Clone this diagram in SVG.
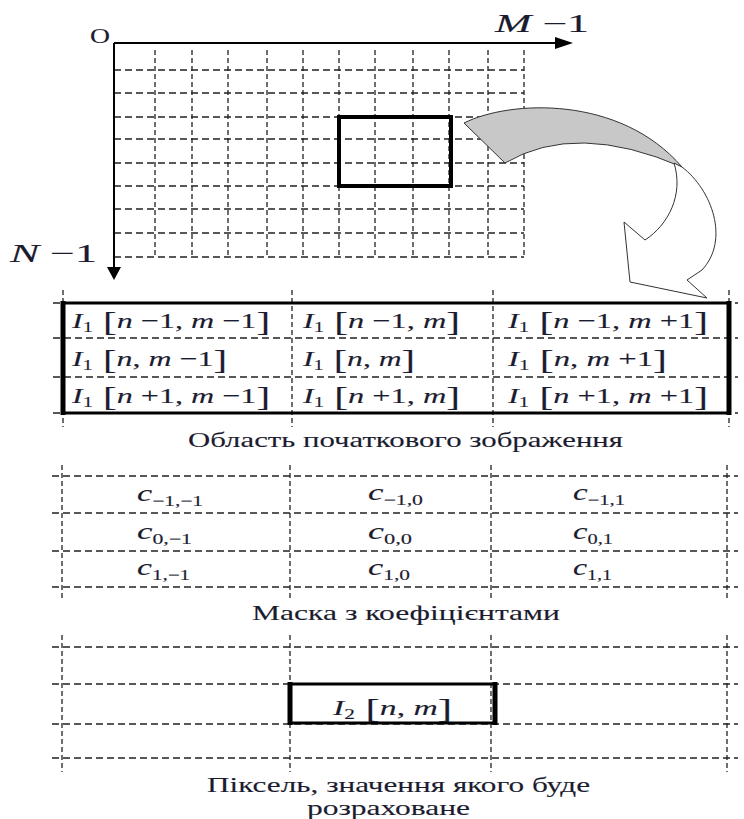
<svg xmlns="http://www.w3.org/2000/svg" width="744" height="819" viewBox="0 0 744 819">
<style>
text{font-family:"Liberation Serif","Times New Roman",serif;fill:#1c1c30;stroke:#1c1c30;stroke-width:0.12}
.i{font-style:italic}
.s{font-size:14px}
.b{font-size:28px}
.tb{font-size:22px}
.mk{font-size:24px}
.ms{font-size:15px;font-style:normal}
.cap{font-size:21px}
.dh{stroke:#222;stroke-width:1.3;stroke-dasharray:7 4;fill:none}
.dv{stroke:#222;stroke-width:1.3;stroke-dasharray:5 3;fill:none}
.thick{stroke:#000;fill:none}
</style>

<g id="image-grid">
<g class="dh">
<path d="M114,70H524M114,93H524M114,117H524M114,139H524M114,163H524M114,186H524M114,209H524M114,233H524M114,257H524"/>
</g>
<g class="dv">
<path d="M155,50V258M192,50V258M228,50V258M267,50V258M303,50V258M339,50V258M375,50V258M413,50V258M449,50V258M488,50V258M524,50V258"/>
</g>
<path d="M114,43H556" stroke="#000" stroke-width="2"/>
<path d="M555,37L573,43L555,49Z" fill="#000"/>
<path d="M114,43V268" stroke="#000" stroke-width="2"/>
<path d="M107,267L114,280L121,267Z" fill="#000"/>
<text x="90" y="43" font-size="21" textLength="20" lengthAdjust="spacingAndGlyphs">O</text>
<text x="495" y="32" font-size="25" textLength="94" lengthAdjust="spacingAndGlyphs"><tspan class="i">M</tspan> −1</text>
<text x="10" y="262" font-size="26" textLength="87" lengthAdjust="spacingAndGlyphs"><tspan class="i">N</tspan> −1</text>
<rect x="339" y="117" width="112" height="69" class="thick" stroke-width="4"/>
</g>

<g id="connectors">
<path d="M464,123 C510,100 620,95 682,167 Q576,121 505,163 Z" fill="#c8c8c8" stroke="#333" stroke-width="1"/>
<path d="M682,167 C712,190 730,240 702,270 L687,280 L707,298 L630,282 L624,222 L645,240 C668,225 684,195 674,163 Z" fill="#fff" stroke="#333" stroke-width="1"/>
</g>

<g id="source-region">
<g class="dh">
<path d="M53,303H738M53,338H738M53,377H738M53,413H738"/>
</g>
<g class="dv">
<path d="M63,290V427M292,290V427M493,290V427M729,290V427"/>
</g>
<rect x="63" y="303" width="666" height="110" class="thick" stroke-width="3"/>
<path d="M63,301V415M729,301V415" class="thick" stroke-width="5"/>
<text x="72" y="328" class="tb" textLength="198" lengthAdjust="spacingAndGlyphs"><tspan class="i">I</tspan><tspan class="s" dy="4">1</tspan><tspan class="b" dy="-1"> [</tspan><tspan dy="-3" class="i">n</tspan> −1, <tspan class="i">m</tspan> −1<tspan class="b" dy="3">]</tspan></text>
<text x="303" y="328" class="tb" textLength="157" lengthAdjust="spacingAndGlyphs"><tspan class="i">I</tspan><tspan class="s" dy="4">1</tspan><tspan class="b" dy="-1"> [</tspan><tspan dy="-3" class="i">n</tspan> −1, <tspan class="i">m</tspan><tspan class="b" dy="3">]</tspan></text>
<text x="508" y="328" class="tb" textLength="200" lengthAdjust="spacingAndGlyphs"><tspan class="i">I</tspan><tspan class="s" dy="4">1</tspan><tspan class="b" dy="-1"> [</tspan><tspan dy="-3" class="i">n</tspan> −1, <tspan class="i">m</tspan> +1<tspan class="b" dy="3">]</tspan></text>
<text x="72" y="366" class="tb" textLength="155" lengthAdjust="spacingAndGlyphs"><tspan class="i">I</tspan><tspan class="s" dy="4">1</tspan><tspan class="b" dy="-1"> [</tspan><tspan dy="-3" class="i">n</tspan>, <tspan class="i">m</tspan> −1<tspan class="b" dy="3">]</tspan></text>
<text x="303" y="366" class="tb" textLength="112" lengthAdjust="spacingAndGlyphs"><tspan class="i">I</tspan><tspan class="s" dy="4">1</tspan><tspan class="b" dy="-1"> [</tspan><tspan dy="-3" class="i">n</tspan>, <tspan class="i">m</tspan><tspan class="b" dy="3">]</tspan></text>
<text x="508" y="366" class="tb" textLength="159" lengthAdjust="spacingAndGlyphs"><tspan class="i">I</tspan><tspan class="s" dy="4">1</tspan><tspan class="b" dy="-1"> [</tspan><tspan dy="-3" class="i">n</tspan>, <tspan class="i">m</tspan> +1<tspan class="b" dy="3">]</tspan></text>
<text x="72" y="403" class="tb" textLength="198" lengthAdjust="spacingAndGlyphs"><tspan class="i">I</tspan><tspan class="s" dy="4">1</tspan><tspan class="b" dy="-1"> [</tspan><tspan dy="-3" class="i">n</tspan> +1, <tspan class="i">m</tspan> −1<tspan class="b" dy="3">]</tspan></text>
<text x="303" y="403" class="tb" textLength="157" lengthAdjust="spacingAndGlyphs"><tspan class="i">I</tspan><tspan class="s" dy="4">1</tspan><tspan class="b" dy="-1"> [</tspan><tspan dy="-3" class="i">n</tspan> +1, <tspan class="i">m</tspan><tspan class="b" dy="3">]</tspan></text>
<text x="508" y="403" class="tb" textLength="200" lengthAdjust="spacingAndGlyphs"><tspan class="i">I</tspan><tspan class="s" dy="4">1</tspan><tspan class="b" dy="-1"> [</tspan><tspan dy="-3" class="i">n</tspan> +1, <tspan class="i">m</tspan> +1<tspan class="b" dy="3">]</tspan></text>
<text x="188" y="447" class="cap" textLength="435" lengthAdjust="spacingAndGlyphs">Область початкового зображення</text>
</g>

<g id="mask">
<g class="dh">
<path d="M52,476H738M52,513H738M52,551H738M52,587H738"/>
</g>
<g class="dv">
<path d="M62,465V600M290,465V600M491,465V600M727,465V600"/>
</g>
<text x="137" y="501" class="mk" textLength="66" lengthAdjust="spacingAndGlyphs"><tspan class="i">c</tspan><tspan class="ms" dy="5">−1,−1</tspan></text>
<text x="368" y="500" class="mk" textLength="55" lengthAdjust="spacingAndGlyphs"><tspan class="i">c</tspan><tspan class="ms" dy="5">−1,0</tspan></text>
<text x="573" y="500" class="mk" textLength="52" lengthAdjust="spacingAndGlyphs"><tspan class="i">c</tspan><tspan class="ms" dy="5">−1,1</tspan></text>
<text x="137" y="539" class="mk" textLength="55" lengthAdjust="spacingAndGlyphs"><tspan class="i">c</tspan><tspan class="ms" dy="5">0,−1</tspan></text>
<text x="368" y="539" class="mk" textLength="44" lengthAdjust="spacingAndGlyphs"><tspan class="i">c</tspan><tspan class="ms" dy="5">0,0</tspan></text>
<text x="573" y="539" class="mk" textLength="40" lengthAdjust="spacingAndGlyphs"><tspan class="i">c</tspan><tspan class="ms" dy="5">0,1</tspan></text>
<text x="137" y="575" class="mk" textLength="53" lengthAdjust="spacingAndGlyphs"><tspan class="i">c</tspan><tspan class="ms" dy="5">1,−1</tspan></text>
<text x="368" y="575" class="mk" textLength="42" lengthAdjust="spacingAndGlyphs"><tspan class="i">c</tspan><tspan class="ms" dy="5">1,0</tspan></text>
<text x="573" y="575" class="mk" textLength="39" lengthAdjust="spacingAndGlyphs"><tspan class="i">c</tspan><tspan class="ms" dy="5">1,1</tspan></text>
<text x="252" y="620" class="cap" font-size="20" textLength="308" lengthAdjust="spacingAndGlyphs">Маска з коефіцієнтами</text>
</g>

<g id="result-pixel">
<g class="dh">
<path d="M52,647H738M52,684H738M52,724H738M52,758H738"/>
</g>
<g class="dv">
<path d="M62,635V772M290,635V772M491,635V772M727,635V772"/>
</g>
<rect x="290" y="684" width="205" height="39" class="thick" stroke-width="3"/>
<path d="M290,682V725M495,682V725" class="thick" stroke-width="5"/>
<text x="333" y="715" class="tb" textLength="119" lengthAdjust="spacingAndGlyphs"><tspan class="i">I</tspan><tspan class="s" dy="4">2</tspan><tspan class="b" dy="-1"> [</tspan><tspan dy="-3" class="i">n</tspan>, <tspan class="i">m</tspan><tspan class="b" dy="3">]</tspan></text>
<text x="207" y="792" class="cap" font-size="20" textLength="383" lengthAdjust="spacingAndGlyphs">Піксель, значення якого буде</text>
<text x="307" y="815" class="cap" font-size="20" textLength="163" lengthAdjust="spacingAndGlyphs">розраховане</text>
</g>
</svg>
